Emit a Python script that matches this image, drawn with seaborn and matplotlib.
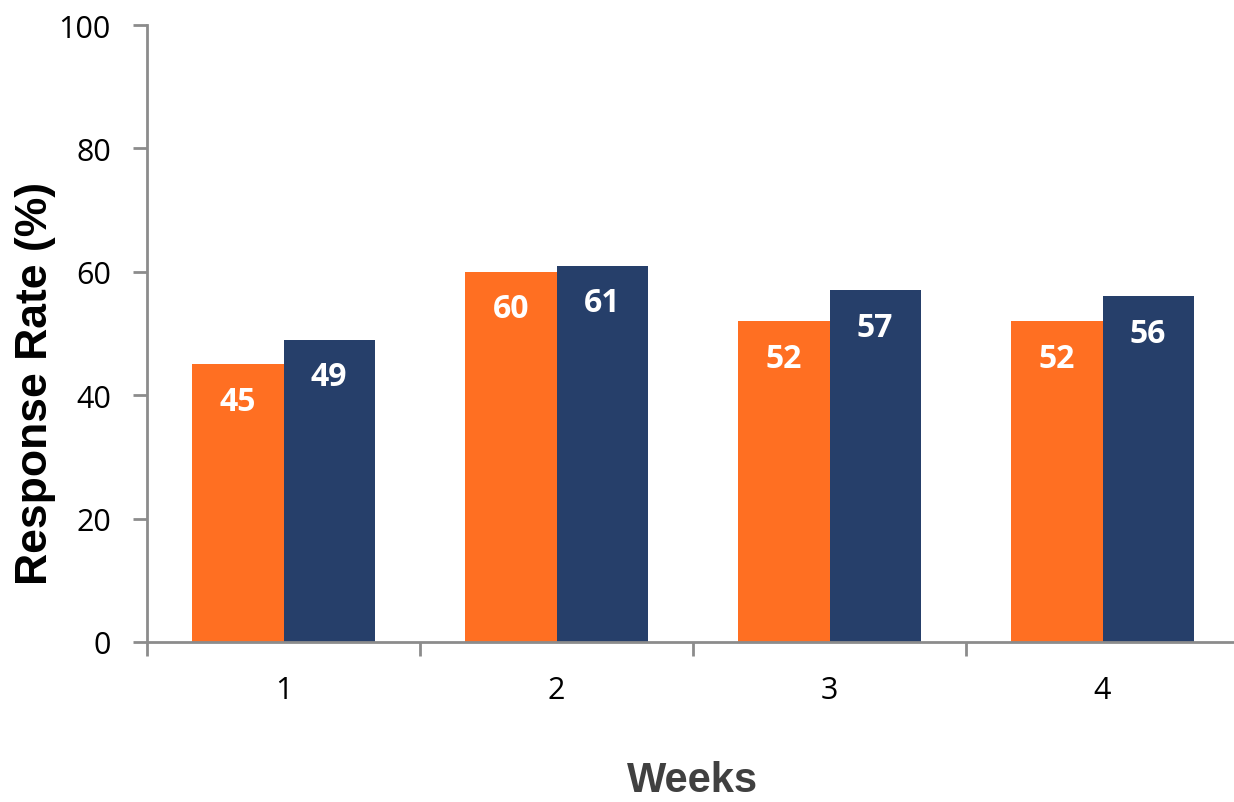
import matplotlib
matplotlib.use("Agg")
import matplotlib.pyplot as plt
import seaborn as sns
import pandas as pd
import numpy as np

# Response rate per week for two groups
weeks = ["1", "2", "3", "4"]
group_names = ["Group A", "Group B"]
group_a = [45, 60, 52, 52]
group_b = [49, 61, 57, 56]
palette = ["#FF6F22", "#263F6A"]

df = pd.DataFrame({
    "Week": weeks * 2,
    "Rate": group_a + group_b,
    "Group": [group_names[0]] * len(weeks) + [group_names[1]] * len(weeks),
})

sns.set_theme(style="white")
plt.rcParams["font.family"] = ["Open Sans", "DejaVu Sans"]

fig = plt.figure(figsize=(12.34, 8.03), dpi=100)
ax = fig.add_axes([147 / 1234, 160 / 803, 1092 / 1234, 617 / 803])

sns.barplot(data=df, x="Week", y="Rate", hue="Group", order=weeks,
            hue_order=group_names, palette=palette, width=0.667, gap=0,
            saturation=1, linewidth=0, legend=False, ax=ax)

# Value labels inside the top of each bar
for container in ax.containers:
    for patch in container:
        h = patch.get_height()
        ax.text(patch.get_x() + patch.get_width() / 2, h - 6, f"{h:.0f}",
                ha="center", va="center", color="white", fontsize=23,
                fontweight="bold")

ax.set_xlim(-0.5, len(weeks) - 0.5)
ax.set_ylim(0, 100)
ax.set_yticks(np.arange(0, 101, 20))
ax.set_xticks(np.arange(-0.5, len(weeks), 1.0), minor=True)

axis_grey = "#8C8C8C"
for side in ["top", "right"]:
    ax.spines[side].set_visible(False)
for side in ["left", "bottom"]:
    ax.spines[side].set_color(axis_grey)
    ax.spines[side].set_linewidth(2)

ax.tick_params(axis="y", which="major", direction="out", length=10, width=2,
               color=axis_grey, labelsize=22, labelcolor="black", pad=16, left=True)
ax.tick_params(axis="x", which="major", length=0, labelsize=22,
               labelcolor="black", pad=24)
ax.tick_params(axis="x", which="minor", direction="out", length=10, width=2,
               color=axis_grey, bottom=True)

ax.set_xlabel("Weeks", fontsize=30, fontweight="bold", color="#404040",
              family="Liberation Sans")
ax.set_ylabel("Response Rate (%)", fontsize=32, fontweight="bold",
              color="black", family="Liberation Sans")
ax.xaxis.label.set_va("center")
ax.yaxis.label.set_va("center")
ax.xaxis.set_label_coords(0.5, -0.224)
ax.yaxis.set_label_coords(-0.102, 0.42)

fig.savefig("out.png", dpi=100)
